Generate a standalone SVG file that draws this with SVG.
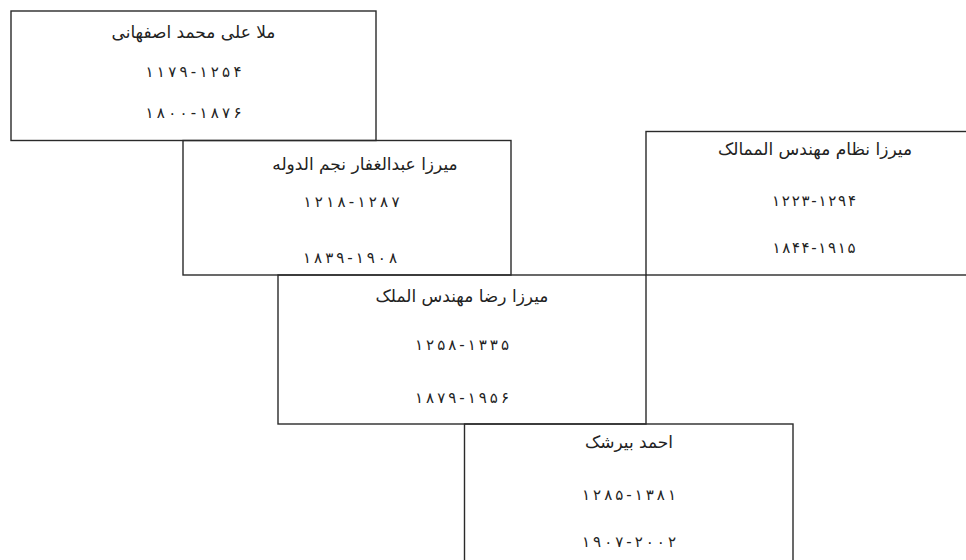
<svg xmlns="http://www.w3.org/2000/svg" width="966" height="560" viewBox="0 0 966 560">
<style>
.box{fill:none;stroke:#2a2a2a;stroke-width:1.4}
text{font-family:"DejaVu Sans","Noto Sans",sans-serif;font-size:15px;fill:#222;text-anchor:middle}
.t{font-size:17px}
</style>
<rect width="966" height="560" fill="#fff"/>
<g id="connectors"></g>
<g id="node1">
<rect class="box" x="11" y="11" width="365" height="129.5"/>
<text class="t" x="193.5" y="38">ملا علی محمد اصفهانی</text>
<text x="193.5" y="77" textLength="96" lengthAdjust="spacing">۱۱۷۹-۱۲۵۴</text>
<text x="193.5" y="118" textLength="96" lengthAdjust="spacing">۱۸۰۰-۱۸۷۶</text>
</g>
<g id="node2">
<rect class="box" x="183" y="140.5" width="328" height="134.5"/>
<text class="t" x="365" y="170">میرزا عبدالغفار نجم الدوله</text>
<text x="351.5" y="207" textLength="96" lengthAdjust="spacing">۱۲۱۸-۱۲۸۷</text>
<text x="350" y="263" textLength="94" lengthAdjust="spacing">۱۸۳۹-۱۹۰۸</text>
</g>
<g id="node3">
<rect class="box" x="646" y="131.5" width="336" height="143.5"/>
<text class="t" x="815" y="155">میرزا نظام مهندس الممالک</text>
<text x="814" y="206" textLength="84" lengthAdjust="spacing">۱۲۲۳-۱۲۹۴</text>
<text x="814" y="253" textLength="83" lengthAdjust="spacing">۱۸۴۴-۱۹۱۵</text>
</g>
<g id="node4">
<rect class="box" x="278" y="275" width="368" height="149"/>
<text class="t" x="462" y="302">میرزا رضا مهندس الملک</text>
<text x="462" y="350" textLength="94" lengthAdjust="spacing">۱۲۵۸-۱۳۳۵</text>
<text x="462" y="403" textLength="94" lengthAdjust="spacing">۱۸۷۹-۱۹۵۶</text>
</g>
<g id="node5">
<rect class="box" x="464.5" y="424" width="328.5" height="146"/>
<text class="t" x="629" y="448">احمد بیرشک</text>
<text x="629" y="500" textLength="94" lengthAdjust="spacing">۱۲۸۵-۱۳۸۱</text>
<text x="629" y="547" textLength="94" lengthAdjust="spacing">۱۹۰۷-۲۰۰۲</text>
</g>
</svg>
